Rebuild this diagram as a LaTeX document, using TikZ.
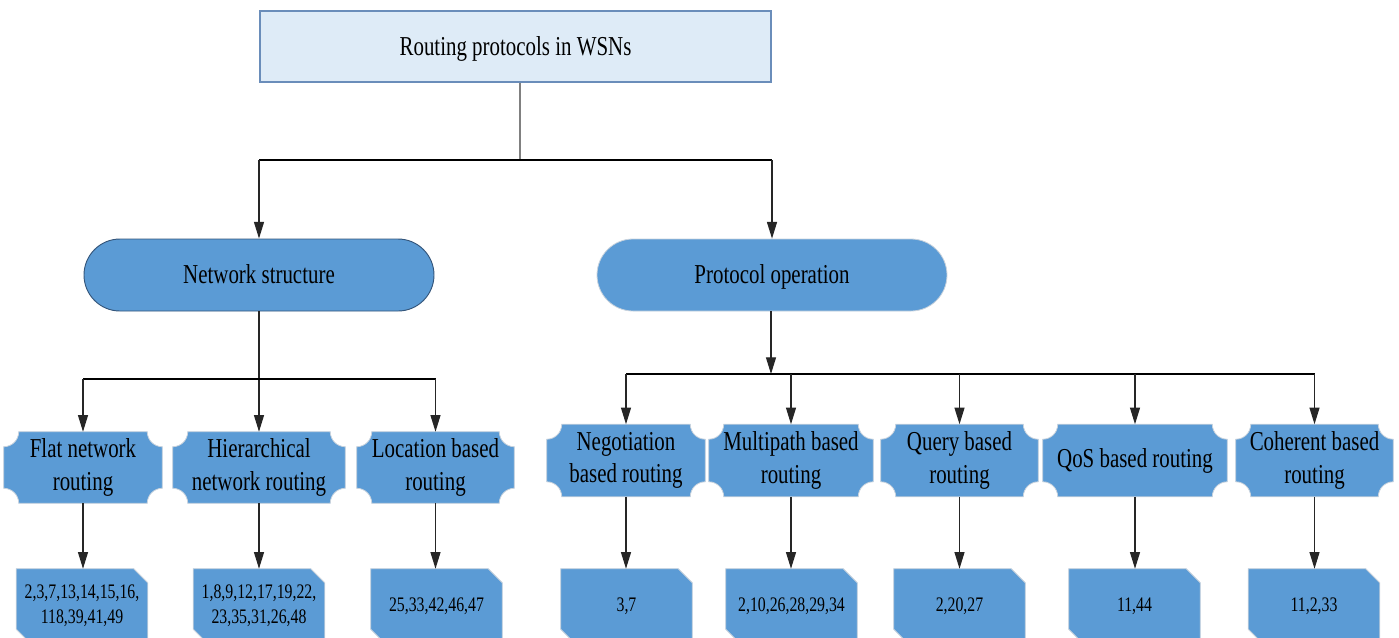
\documentclass[tikz,border=0pt]{standalone}
\usepackage{fontspec}
\setmainfont{Liberation Serif}[FakeStretch=0.765]
\usetikzlibrary{arrows.meta,calc}
\definecolor{boxblue}{HTML}{5B9BD5}
\definecolor{topfill}{HTML}{DEEBF7}
\definecolor{topedge}{HTML}{6A8DBA}
\definecolor{darkedge}{HTML}{34557A}
\definecolor{softedge}{HTML}{C9D3DD}
\pgfdeclarelayer{bg}
\pgfsetlayers{bg,main}
\newcommand\plaquepath[1]{%
 \filldraw[plq] ($(#1.north west)+(15,0)$) -- ($(#1.north east)+(-15,0)$)
   arc[start angle=180,end angle=270,radius=11.25pt] -- ($(#1.south east)+(0,15)$)
   arc[start angle=90,end angle=180,radius=11.25pt] -- ($(#1.south west)+(15,0)$)
   arc[start angle=0,end angle=90,radius=11.25pt] -- ($(#1.north west)+(0,-15)$)
   arc[start angle=270,end angle=360,radius=11.25pt] -- cycle;}
\newcommand\snippath[1]{%
 \filldraw[snp] (#1.north west) -- ($(#1.north east)+(-14,0)$) -- ($(#1.north east)+(0,-14)$)
   -- (#1.south east) -- ($(#1.south west)+(14,0)$) -- ($(#1.south west)+(0,14)$) -- cycle;}
\tikzset{
  txt/.style={font=\fontsize{20.5}{24.5}\selectfont, align=center, inner sep=0pt, text=black},
  numtxt/.style={font=\fontsize{15.5}{18.8}\selectfont, align=center, inner sep=0pt, text=black},
  topbox/.style={txt, draw=topedge, fill=topfill, line width=1pt, minimum width=383.25pt, minimum height=53.25pt, text height=17pt, text depth=4.2pt},
  stadium/.style={txt, fill=boxblue, rounded corners=27pt, minimum width=262.5pt, minimum height=54pt, text height=16pt, text depth=4pt},
  plqnode/.style={txt, minimum height=#1},
  plq/.style={fill=boxblue, draw=softedge, line width=0.6pt},
  snp/.style={fill=boxblue, draw=softedge, line width=0.6pt},
  numnode/.style={numtxt, minimum width=98.25pt, minimum height=55.5pt},
  conn/.style={draw=black!85, line width=0.9pt},
  arr/.style={conn, -{Triangle[length=12.5pt,width=7.5pt]}},
  bar/.style={draw=black, line width=1.6pt},
}
\begin{document}
\begin{tikzpicture}[x=0.75pt,y=0.75pt]
\useasboundingbox (0,0) rectangle (1399,-637);
\clip (0,0) rectangle (1399,-637);

% top
\node[topbox] (top) at (515.5,-46.5) {Routing protocols in WSNs};

% second level
\node[stadium, draw=darkedge, line width=0.7pt] (ns) at (259,-275) {Network structure};
\node[stadium, draw=softedge, line width=0.6pt] (po) at (772,-275) {Protocol operation};

% third level (plaques)
\node[plqnode=53.25pt, minimum width=118.5pt] (flat) at (83,-467.5) {Flat network\\routing};
\node[plqnode=53.25pt, minimum width=129pt] (hier) at (259,-467.5) {Hierarchical\\network routing};
\node[plqnode=53.25pt, minimum width=117.75pt] (loc) at (435.5,-467.5) {Location based\\routing};
\node[plqnode=54pt, minimum width=118.5pt] (neg) at (626,-460.5) {Negotiation\\based routing};
\node[plqnode=54pt, minimum width=123pt] (mul) at (791,-460.5) {Multipath based\\routing};
\node[plqnode=54pt, minimum width=117.75pt] (qry) at (959.5,-460.5) {Query based\\routing};
\node[plqnode=54pt, minimum width=138pt] (qos) at (1135,-460.5) {QoS based routing};
\node[plqnode=54pt, minimum width=117.75pt] (coh) at (1314.5,-460.5) {Coherent based\\routing};

% bottom (snipped boxes)
\node[numnode] (bflat) at (82,-606) {2,3,7,13,14,15,16,\\118,39,41,49};
\node[numnode] (bhier) at (259,-606) {1,8,9,12,17,19,22,\\23,35,31,26,48};
\node[numnode] (bloc) at (436.5,-606) {25,33,42,46,47};
\node[numnode] (bneg) at (626.5,-606) {3,7};
\node[numnode] (bmul) at (791.5,-606) {2,10,26,28,29,34};
\node[numnode] (bqry) at (959.5,-606) {2,20,27};
\node[numnode] (bqos) at (1134.5,-606) {11,44};
\node[numnode] (bcoh) at (1314,-606) {11,2,33};

\begin{pgfonlayer}{bg}
  \fill[white] (0,0) rectangle (1399,-637);
  \foreach \n in {flat,hier,loc,neg,mul,qry,qos,coh} {\plaquepath{\n}}
  \foreach \n in {bflat,bhier,bloc,bneg,bmul,bqry,bqos,bcoh} {\snippath{\n}}
\end{pgfonlayer}

% junction coordinates
\coordinate (j0) at (520,-160);
\coordinate (jl) at (259,-379);
\coordinate (jr) at (771,-374);

% top connectors
\draw[conn, draw=black!50] (top.south -| j0) -- (j0);
\draw[bar] (top.south west |- j0) -- (top.south east |- j0);
\draw[arr] (ns.north |- j0) -- (ns.north);
\draw[arr] (po.north |- j0) -- (po.north);

% network structure branch
\draw[arr] (ns.south) -- (hier.north -| ns.south);
\draw[bar] (flat.north |- jl) -- (loc.north |- jl);
\draw[arr] (flat.north |- jl) -- (flat.north);
\draw[arr] (loc.north |- jl) -- (loc.north);

% protocol operation branch
\draw[arr] (po.south -| jr) -- (jr);
\draw[bar] (neg.north |- jr) -- (coh.north |- jr);
\foreach \n in {neg,mul,qry,qos,coh} {\draw[arr] (\n.north |- jr) -- (\n.north);}

% plaque to numbers
\draw[arr] (flat.south) -- (bflat.north -| flat.south);
\draw[arr] (hier.south) -- (bhier.north -| hier.south);
\draw[arr] (loc.south) -- (bloc.north -| loc.south);
\draw[arr] (neg.south) -- (bneg.north -| neg.south);
\draw[arr] (mul.south) -- (bmul.north -| mul.south);
\draw[arr] (qry.south) -- (bqry.north -| qry.south);
\draw[arr] (qos.south) -- (bqos.north -| qos.south);
\draw[arr] (coh.south) -- (bcoh.north -| coh.south);
\end{tikzpicture}
\end{document}
